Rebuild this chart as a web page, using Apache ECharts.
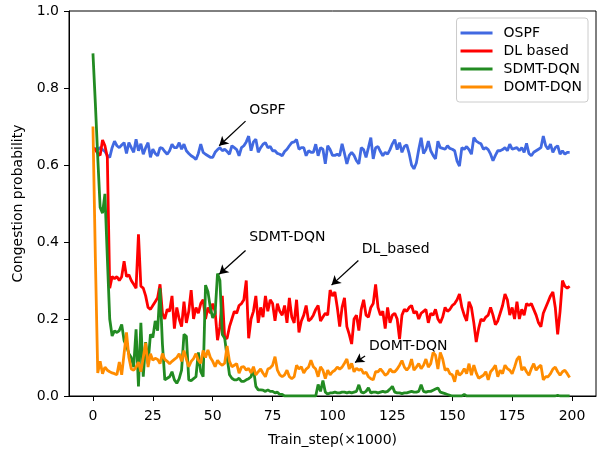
<!DOCTYPE html>
<html>
<head>
<meta charset="utf-8">
<script src="https://cdn.jsdelivr.net/npm/echarts@6/dist/echarts.min.js"></script>
<style>
    html, body { margin: 0; padding: 0; background: #fff; }
    #main { width: 599px; height: 452px; }
</style>
</head>
<body>
<div id="main"></div>
<script>
// x tick labels (Train_step x1000)
var xTicks = [0, 25, 50, 75, 100, 125, 150, 175, 200];

// congestion probability per train step
var ospf = [
    0.64, 0.643, 0.64, 0.645, 0.64, 0.635, 0.625, 0.62, 0.645, 0.662,
    0.65, 0.645, 0.652, 0.658, 0.63, 0.658, 0.645, 0.633, 0.667, 0.637,
    0.655, 0.628, 0.645, 0.658, 0.62, 0.641, 0.63, 0.624, 0.645, 0.643,
    0.635, 0.628, 0.637, 0.654, 0.645, 0.645, 0.658, 0.641, 0.654, 0.637,
    0.63, 0.624, 0.62, 0.614, 0.63, 0.654, 0.633, 0.628, 0.624, 0.62,
    0.62, 0.633, 0.64, 0.645, 0.637, 0.641, 0.635, 0.628, 0.65, 0.645,
    0.64, 0.624, 0.645, 0.65, 0.66, 0.675, 0.637, 0.66, 0.667, 0.633,
    0.645, 0.654, 0.658, 0.645, 0.648, 0.637, 0.637, 0.63, 0.628, 0.624,
    0.635, 0.641, 0.65, 0.658, 0.66, 0.666, 0.641, 0.645, 0.645, 0.624,
    0.637, 0.633, 0.633, 0.654, 0.624, 0.645, 0.641, 0.603, 0.65, 0.64,
    0.625, 0.625, 0.628, 0.624, 0.655, 0.63, 0.603, 0.625, 0.633, 0.625,
    0.611, 0.603, 0.645, 0.64, 0.62, 0.645, 0.671, 0.616, 0.645, 0.648,
    0.635, 0.624, 0.633, 0.628, 0.64, 0.655, 0.666, 0.64, 0.658, 0.633,
    0.648, 0.652, 0.63, 0.6, 0.59, 0.605, 0.64, 0.671, 0.63, 0.64,
    0.662, 0.637, 0.625, 0.616, 0.662, 0.645, 0.643, 0.641, 0.65, 0.643,
    0.641, 0.637, 0.61, 0.597, 0.645, 0.641, 0.648, 0.64, 0.628, 0.671,
    0.662, 0.658, 0.655, 0.641, 0.645, 0.64, 0.628, 0.611, 0.625, 0.637,
    0.637, 0.64, 0.645, 0.637, 0.654, 0.641, 0.643, 0.645, 0.637, 0.645,
    0.633, 0.656, 0.63, 0.624, 0.633, 0.637, 0.641, 0.645, 0.675, 0.65,
    0.641, 0.654, 0.633, 0.645, 0.65, 0.628, 0.637, 0.628, 0.633, 0.633
];

var dlBased = [
    0.645, 0.64, 0.63, 0.625, 0.665, 0.65, 0.62, 0.28, 0.31, 0.305,
    0.31, 0.30, 0.31, 0.35, 0.31, 0.315, 0.30, 0.29, 0.28, 0.42,
    0.285, 0.28, 0.26, 0.23, 0.225, 0.235, 0.245, 0.255, 0.29, 0.215,
    0.20, 0.225, 0.22, 0.26, 0.175, 0.23, 0.20, 0.18, 0.245, 0.19,
    0.22, 0.275, 0.20, 0.23, 0.215, 0.24, 0.25, 0.20, 0.23, 0.215,
    0.24, 0.22, 0.145, 0.18, 0.26, 0.15, 0.15, 0.18, 0.20, 0.22,
    0.215, 0.235, 0.24, 0.25, 0.30, 0.15, 0.20, 0.22, 0.26, 0.19,
    0.23, 0.205, 0.26, 0.22, 0.25, 0.24, 0.195, 0.24, 0.22, 0.21,
    0.235, 0.19, 0.255, 0.205, 0.19, 0.25, 0.165, 0.195, 0.21, 0.235,
    0.195, 0.20, 0.21, 0.225, 0.235, 0.195, 0.205, 0.215, 0.21, 0.275,
    0.26, 0.27, 0.23, 0.18, 0.23, 0.255, 0.18, 0.16, 0.135, 0.20,
    0.21, 0.17, 0.225, 0.25, 0.21, 0.205, 0.23, 0.24, 0.29, 0.23,
    0.21, 0.22, 0.175, 0.23, 0.19, 0.21, 0.215, 0.20, 0.148, 0.21,
    0.225, 0.22, 0.23, 0.235, 0.215, 0.22, 0.20, 0.215, 0.22, 0.225,
    0.19, 0.215, 0.21, 0.225, 0.20, 0.19, 0.205, 0.23, 0.22, 0.225,
    0.235, 0.24, 0.25, 0.265, 0.23, 0.21, 0.195, 0.245, 0.23, 0.19,
    0.14, 0.175, 0.20, 0.195, 0.205, 0.21, 0.23, 0.21, 0.185, 0.195,
    0.215, 0.235, 0.265, 0.25, 0.21, 0.23, 0.20, 0.245, 0.20, 0.225,
    0.21, 0.24, 0.235, 0.24, 0.225, 0.21, 0.19, 0.18, 0.215, 0.23,
    0.245, 0.26, 0.27, 0.23, 0.16, 0.22, 0.30, 0.285, 0.28, 0.285
];

var sdmtDqn = [
    0.89, 0.76, 0.62, 0.49, 0.475, 0.525, 0.36, 0.20, 0.156, 0.169,
    0.165, 0.17, 0.186, 0.144, 0.13, 0.11, 0.10, 0.075, 0.173, 0.025,
    0.19, 0.05, 0.14, 0.084, 0.16, 0.152, 0.195, 0.17, 0.28, 0.135,
    0.042, 0.046, 0.05, 0.063, 0.042, 0.033, 0.045, 0.067, 0.16, 0.155,
    0.042, 0.04, 0.045, 0.05, 0.113, 0.063, 0.05, 0.288, 0.271, 0.229,
    0.203, 0.215, 0.318, 0.30, 0.16, 0.15, 0.101, 0.055, 0.046, 0.042,
    0.042, 0.046, 0.038, 0.038, 0.042, 0.045, 0.05, 0.071, 0.025, 0.016,
    0.016, 0.015, 0.012, 0.016, 0.012, 0.012, 0.008, 0.01, 0.004, 0.004,
    0, 0, 0, 0, 0, 0, 0, 0, 0, 0,
    0, 0, 0, 0, 0.03, 0.012, 0.04, 0.01, 0.005, 0.008,
    0.008, 0.01, 0.008, 0.008, 0.01, 0.01, 0.008, 0.01, 0.008, 0.01,
    0.012, 0.029, 0.01, 0.008, 0.012, 0.021, 0.008, 0.01, 0.01, 0.008,
    0.01, 0.012, 0.01, 0.012, 0.018, 0.025, 0.01, 0.008, 0.008, 0.006,
    0.008, 0.008, 0.01, 0.012, 0.01, 0.01, 0.012, 0.029, 0.012, 0.01,
    0.012, 0.012, 0.015, 0.018, 0.021, 0.01, 0.008, 0.006, 0.004, 0.002,
    0, 0, 0, 0, 0, 0.004, 0, 0, 0, 0,
    0, 0, 0, 0, 0, 0, 0, 0, 0, 0,
    0, 0, 0, 0, 0, 0, 0, 0, 0, 0,
    0, 0, 0, 0, 0, 0, 0, 0, 0, 0,
    0, 0, 0, 0, 0.002, 0, 0, 0, 0, 0
];

var domtDqn = [
    0.70, 0.36, 0.06, 0.09, 0.058, 0.075, 0.067, 0.063, 0.06, 0.058,
    0.055, 0.088, 0.055, 0.11, 0.165, 0.10, 0.07, 0.067, 0.075, 0.088,
    0.063, 0.10, 0.138, 0.075, 0.11, 0.093, 0.098, 0.095, 0.084, 0.11,
    0.095, 0.09, 0.084, 0.09, 0.095, 0.10, 0.11, 0.09, 0.118, 0.095,
    0.076, 0.09, 0.097, 0.11, 0.093, 0.085, 0.118, 0.10, 0.12, 0.10,
    0.09, 0.076, 0.093, 0.084, 0.08, 0.085, 0.13, 0.09, 0.076, 0.08,
    0.084, 0.059, 0.075, 0.076, 0.067, 0.072, 0.06, 0.076, 0.055, 0.063,
    0.07, 0.059, 0.05, 0.07, 0.073, 0.08, 0.102, 0.067, 0.055, 0.05,
    0.055, 0.067, 0.05, 0.045, 0.05, 0.08, 0.07, 0.076, 0.06, 0.07,
    0.075, 0.093, 0.076, 0.07, 0.05, 0.076, 0.067, 0.045, 0.067, 0.055,
    0.063, 0.067, 0.075, 0.07, 0.075, 0.085, 0.096, 0.07, 0.085, 0.063,
    0.072, 0.067, 0.07, 0.058, 0.062, 0.05, 0.045, 0.042, 0.063, 0.063,
    0.07, 0.063, 0.054, 0.058, 0.07, 0.063, 0.063, 0.07, 0.08, 0.092,
    0.075, 0.067, 0.075, 0.096, 0.067, 0.075, 0.084, 0.071, 0.08, 0.096,
    0.075, 0.084, 0.113, 0.106, 0.07, 0.113, 0.096, 0.067, 0.071, 0.058,
    0.055, 0.037, 0.067, 0.054, 0.06, 0.071, 0.058, 0.084, 0.054, 0.08,
    0.06, 0.046, 0.05, 0.054, 0.063, 0.042, 0.063, 0.07, 0.08, 0.05,
    0.067, 0.058, 0.08, 0.071, 0.067, 0.058, 0.075, 0.095, 0.103, 0.067,
    0.075, 0.063, 0.054, 0.071, 0.084, 0.067, 0.075, 0.08, 0.042, 0.05,
    0.05, 0.058, 0.07, 0.075, 0.063, 0.054, 0.063, 0.067, 0.058, 0.048
];

var seriesNames = ['OSPF', 'DL based', 'SDMT-DQN', 'DOMT-DQN'];
var seriesColors = ['#4169e1', '#ff0000', '#228b22', '#ff8c00'];

// annotate(): text, text anchor [x, y], arrow from -> to (data coords)
var notes = [
    {text: 'OSPF', at: [65, 0.741], from: [63.7, 0.714], to: [52.7, 0.65]},
    {text: 'DL_based', at: [112, 0.381], from: [110.8, 0.352], to: [99.6, 0.288]},
    {text: 'SDMT-DQN', at: [65, 0.412], from: [63.7, 0.378], to: [52.7, 0.316]},
    {text: 'DOMT-DQN', at: [115, 0.130], from: [113.6, 0.104], to: [109.4, 0.087]}
];

var FONT = 'DejaVu Sans';

function toPairs(arr) {
    return arr.map(function (v, i) {
        return [i, v];
    });
}

function noteMarks(note) {
    return {
        markLine: {
            silent: true,
            symbol: ['none', 'arrow'],
            symbolSize: [8, 9],
            label: {show: false},
            lineStyle: {color: '#000', width: 1.3, type: 'solid'},
            emphasis: {disabled: true},
            data: [[{coord: note.from}, {coord: note.to}]]
        },
        markPoint: {
            silent: true,
            symbol: 'circle',
            symbolSize: 1,
            itemStyle: {color: 'rgba(0,0,0,0)'},
            label: {
                show: true,
                position: 'right',
                distance: 0,
                formatter: '{b}',
                color: '#000',
                fontSize: 14,
                fontFamily: FONT
            },
            data: [{name: note.text, coord: note.at}]
        }
    };
}

var allData = [ospf, dlBased, sdmtDqn, domtDqn];
var series = allData.map(function (arr, k) {
    var s = {
        name: seriesNames[k],
        type: 'line',
        data: toPairs(arr),
        symbol: 'none',
        clip: true,
        lineStyle: {width: 2.8, color: seriesColors[k]},
        itemStyle: {color: seriesColors[k]},
        emphasis: {disabled: true}
    };
    var m = noteMarks(notes[k]);
    s.markLine = m.markLine;
    s.markPoint = m.markPoint;
    return s;
});

var myChart = echarts.init(document.getElementById('main'), null, {renderer: 'canvas'});

myChart.setOption({
    animation: false,
    backgroundColor: '#fff',
    textStyle: {fontFamily: FONT},
    grid: {
        left: 69,
        right: 3,
        top: 11,
        bottom: 49,
        show: true,
        borderColor: '#000',
        borderWidth: 1,
        backgroundColor: 'transparent'
    },
    legend: {
        orient: 'vertical',
        right: 11,
        top: 18,
        padding: [8, 6, 8, 4],
        icon: 'rect',
        itemWidth: 32,
        itemHeight: 3,
        itemGap: 4,
        backgroundColor: 'rgba(255,255,255,0.8)',
        borderColor: '#cccccc',
        borderWidth: 1,
        borderRadius: 3,
        textStyle: {fontSize: 14, color: '#000', fontFamily: FONT, padding: [0, 0, 0, 6]},
        data: seriesNames
    },
    xAxis: {
        type: 'value',
        min: -10,
        max: 210,
        name: 'Train_step(\u00d71000)',
        nameLocation: 'middle',
        nameGap: 37,
        nameTextStyle: {fontSize: 14, color: '#000', fontFamily: FONT},
        axisLine: {onZero: false, lineStyle: {color: '#000', width: 1}},
        axisTick: {inside: false, length: 5, customValues: xTicks, lineStyle: {color: '#000'}},
        axisLabel: {customValues: xTicks, fontSize: 14, color: '#000', margin: 13, fontFamily: FONT},
        splitLine: {show: false}
    },
    yAxis: {
        type: 'value',
        min: 0,
        max: 1,
        interval: 0.2,
        name: 'Congestion probability',
        nameLocation: 'middle',
        nameGap: 41,
        nameTextStyle: {fontSize: 14, color: '#000', fontFamily: FONT},
        axisLine: {show: true, onZero: false, lineStyle: {color: '#000', width: 1}},
        axisTick: {show: true, inside: false, length: 5, lineStyle: {color: '#000'}},
        axisLabel: {
            fontSize: 14,
            color: '#000',
            margin: 10,
            fontFamily: FONT,
            formatter: function (v) {
                return v.toFixed(1);
            }
        },
        splitLine: {show: false}
    },
    series: series
});
</script>
</body>
</html>
